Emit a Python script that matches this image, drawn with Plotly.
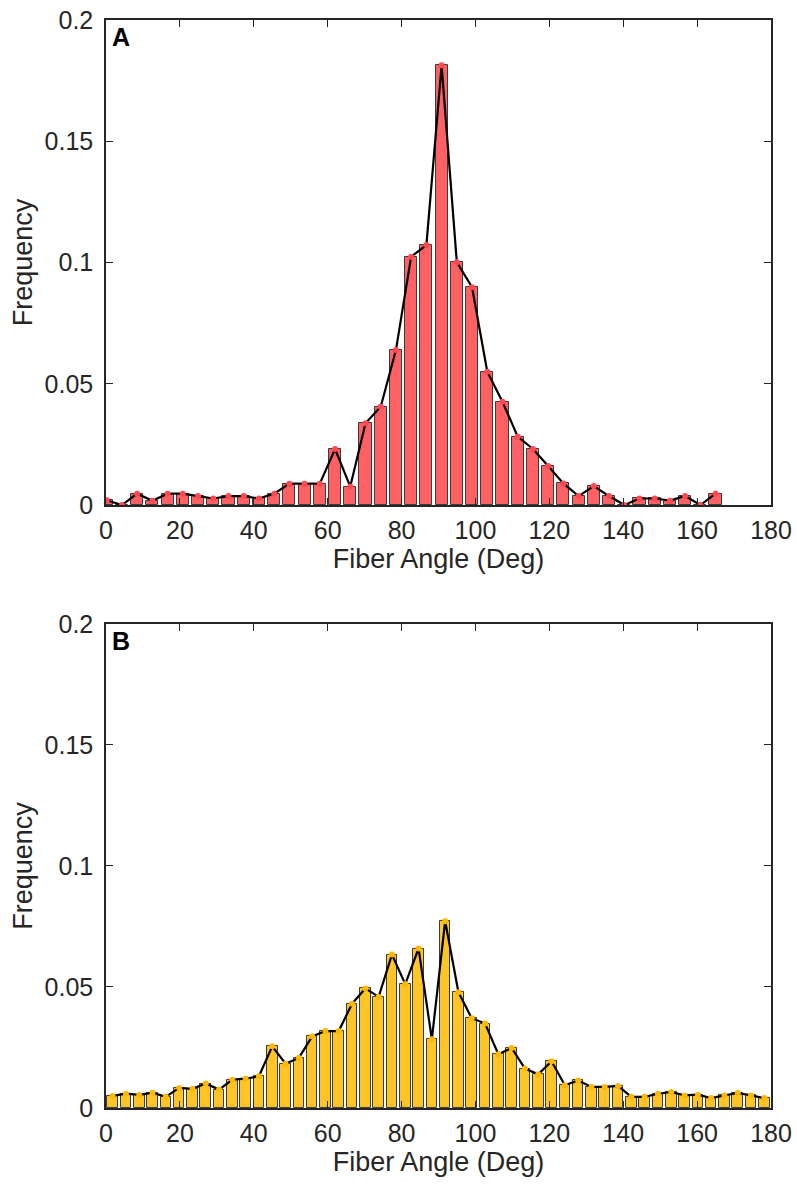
import plotly.graph_objects as go

# Panel A: bin centres (deg) and frequencies
a_start, a_step = 0.2, 4.12
freq_a = [0.002, 0.0, 0.0047, 0.0018, 0.0047, 0.0047, 0.0037, 0.0027, 0.0037, 0.0037,
          0.0027, 0.0047, 0.0088, 0.0088, 0.0088, 0.0231, 0.0076, 0.0337, 0.0405, 0.0639,
          0.1024, 0.1072, 0.1813, 0.1001, 0.0898, 0.0550, 0.0426, 0.0282, 0.0231, 0.0161,
          0.0089, 0.0037, 0.0078, 0.0037, 0.0, 0.0027, 0.0027, 0.0018, 0.0037, 0.0,
          0.0047]
angle_a = [round(a_start + a_step * i, 2) for i in range(len(freq_a))]

# Panel B: bin centres (deg) and frequencies
b_start, b_step = 1.8, 3.6
freq_b = [0.0050, 0.0059, 0.0054, 0.0063, 0.0046, 0.0083, 0.0079, 0.0101, 0.0076, 0.0117,
          0.0121, 0.0131, 0.0255, 0.0183, 0.0207, 0.0296, 0.0318, 0.0318, 0.0431, 0.0494,
          0.0459, 0.0634, 0.0512, 0.0659, 0.0284, 0.0772, 0.0478, 0.0371, 0.0349, 0.0222,
          0.0248, 0.0163, 0.0139, 0.0193, 0.0094, 0.0114, 0.0087, 0.0087, 0.0091, 0.0046,
          0.0046, 0.0059, 0.0066, 0.0052, 0.0055, 0.0041, 0.0052, 0.0062, 0.0052, 0.0041]
angle_b = [round(b_start + b_step * i, 2) for i in range(len(freq_b))]

x_ticks = list(range(0, 181, 20))
y_ticks = [0, 0.05, 0.1, 0.15, 0.2]
y_tick_labels = ["0", "0.05", "0.1", "0.15", "0.2"]
panel_labels = ["A", "B"]

color_a = "#FF6064"
color_b = "#FFC425"
marker_a = "#FF4850"
marker_b = "#FFB800"
axis_col = "#262626"
FONT = "Liberation Sans, Arial, sans-serif"

fig = go.Figure()

fig.add_trace(go.Bar(x=angle_a, y=freq_a, width=a_step * 0.8,
                     marker=dict(color=color_a, line=dict(color="#3a3a3a", width=1)),
                     xaxis="x", yaxis="y", showlegend=False))
fig.add_trace(go.Scatter(x=angle_a, y=freq_a, mode="lines+markers",
                         line=dict(color="black", width=2.2),
                         marker=dict(color=marker_a, size=6, symbol="circle"),
                         xaxis="x", yaxis="y", showlegend=False))
fig.add_trace(go.Bar(x=angle_b, y=freq_b, width=b_step * 0.8,
                     marker=dict(color=color_b, line=dict(color="#3a3a3a", width=1)),
                     xaxis="x2", yaxis="y2", showlegend=False))
fig.add_trace(go.Scatter(x=angle_b, y=freq_b, mode="lines+markers",
                         line=dict(color="black", width=2.2),
                         marker=dict(color=marker_b, size=6, symbol="circle"),
                         xaxis="x2", yaxis="y2", showlegend=False))

xcommon = dict(range=[0, 180], tickvals=x_ticks, ticks="inside", ticklen=7,
               tickwidth=1.3, tickcolor=axis_col, showline=True, linecolor=axis_col,
               linewidth=1.5, mirror="ticks", showgrid=False, zeroline=False,
               ticklabelstandoff=2, automargin=False,
               tickfont=dict(family=FONT, size=25, color=axis_col),
               title=dict(text="Fiber Angle (Deg)", standoff=2,
                          font=dict(family=FONT, size=27, color=axis_col)))
ycommon = dict(range=[0, 0.2], tickvals=y_ticks, ticktext=y_tick_labels, ticks="inside",
               ticklen=7, tickwidth=1.3, tickcolor=axis_col, showline=True,
               linecolor=axis_col, linewidth=1.5, mirror="ticks", showgrid=False,
               zeroline=False, ticklabelstandoff=6, automargin=False,
               tickfont=dict(family=FONT, size=25, color=axis_col),
               title=dict(text="Frequency", standoff=4,
                          font=dict(family=FONT, size=27, color=axis_col)))

fig.update_layout(
    width=797, height=1187,
    margin=dict(l=106, r=26, t=20, b=79),
    paper_bgcolor="white", plot_bgcolor="white",
    bargap=0,
    xaxis=dict(**xcommon, anchor="y"),
    yaxis=dict(**ycommon, domain=[0.5542, 1.0], anchor="x"),
    xaxis2=dict(**xcommon, anchor="y2"),
    yaxis2=dict(**ycommon, domain=[0.0, 0.4449], anchor="x2"),
)

for lab, xr, yr in zip(panel_labels, ["x domain", "x2 domain"], ["y domain", "y2 domain"]):
    fig.add_annotation(text="<b>%s</b>" % lab, xref=xr, yref=yr, x=0.006, y=0.998,
                       xanchor="left", yanchor="top", showarrow=False,
                       font=dict(family=FONT, size=25, color="black"))

fig.write_html("out.html")
